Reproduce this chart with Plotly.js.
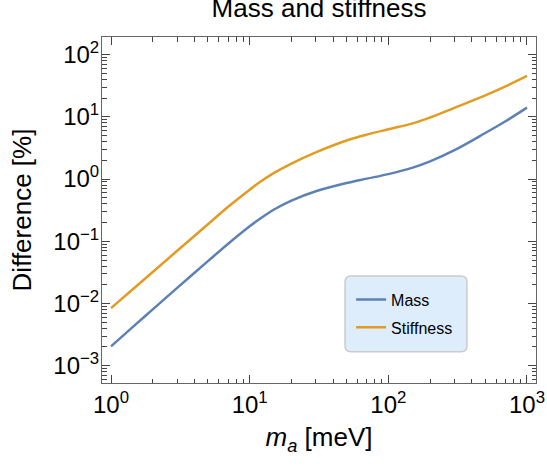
<!DOCTYPE html>
<html>
<head>
<meta charset="utf-8">
<script src="https://cdn.plot.ly/plotly-3.0.1.min.js"></script>
<style>html,body{margin:0;padding:0;background:#fff;}#chart{width:547px;height:466px;}</style>
</head>
<body>
<div id="chart"></div>
<script>
// m_a [meV]
const massAxion = [1, 1.5, 2, 3, 5, 7, 10, 12, 15, 20, 30, 50, 70, 100, 150, 200, 300, 500, 700, 1000];
// Difference [%]
const massDiff = [0.00204, 0.00457, 0.00804, 0.0178, 0.0479, 0.0912, 0.174, 0.234, 0.324, 0.451, 0.637, 0.865, 1.016, 1.202, 1.531, 1.928, 2.917, 5.50, 8.51, 14.09];
const stiffDiff = [0.00843, 0.01845, 0.0321, 0.0703, 0.188, 0.359, 0.676, 0.912, 1.259, 1.778, 2.69, 4.17, 5.19, 6.31, 7.85, 9.77, 13.96, 22.1, 30.9, 45.5];
const seriesNames = ['Mass', 'Stiffness'];

const xTickVals = [1, 10, 100, 1000];
const xTickText = ['10<sup>0</sup>', '10<sup>1</sup>', '10<sup>2</sup>', '10<sup>3</sup>'];
const yTickVals = [0.001, 0.01, 0.1, 1, 10, 100];
const yTickText = ['10<sup>\u22123</sup>', '10<sup>\u22122</sup>', '10<sup>\u22121</sup>', '10<sup>0</sup>', '10<sup>1</sup>', '10<sup>2</sup>'];
const xMinor = [2,3,4,5,6,7,8,9,20,30,40,50,60,70,80,90,200,300,400,500,600,700,800,900];
const yMinor = [0.0006,0.0007,0.0008,0.0009,0.002,0.003,0.004,0.005,0.006,0.007,0.008,0.009,0.02,0.03,0.04,0.05,0.06,0.07,0.08,0.09,0.2,0.3,0.4,0.5,0.6,0.7,0.8,0.9,2,3,4,5,6,7,8,9,20,30,40,50,60,70,80,90];

const FONT = 'Liberation Sans, Arial, Helvetica, sans-serif';
const colors = ['#5E81B5', '#E19C24'];

const traces = [
  {x: massAxion, y: massDiff, name: seriesNames[0], legendgroup: 'g1', mode: 'lines', line: {color: colors[0], width: 2.5, shape: 'spline', smoothing: 1}},
  {x: massAxion, y: stiffDiff, name: seriesNames[1], legendgroup: 'g2', mode: 'lines', line: {color: colors[1], width: 2.5, shape: 'spline', smoothing: 1}}
];

function axisBase() {
  return {
    type: 'log', showgrid: false, zeroline: false,
    showline: true, linecolor: '#666', linewidth: 1, mirror: 'ticks',
    ticks: 'inside', ticklen: 8, tickwidth: 1, tickcolor: '#444',
    tickfont: {family: FONT, size: 24, color: '#000'},
    tickmode: 'array'
  };
}
const xaxis = Object.assign(axisBase(), {
  range: [-0.065, 3.065], tickvals: xTickVals, ticktext: xTickText,
  minor: {tickmode: 'array', tickvals: xMinor, ticks: 'inside', ticklen: 4.5, tickwidth: 1, tickcolor: '#444', showgrid: false},
  title: {text: '<i>m</i><sub><i>a</i></sub> [meV]', font: {family: FONT, size: 26, color: '#000'}, standoff: 11}
});
const yaxis = Object.assign(axisBase(), {
  range: [-3.278, 2.284], tickvals: yTickVals, ticktext: yTickText, ticklabelstandoff: -3,
  minor: {tickmode: 'array', tickvals: yMinor, ticks: 'inside', ticklen: 4.5, tickwidth: 1, tickcolor: '#444', showgrid: false},
  title: {text: 'Difference [%]', font: {family: FONT, size: 26, color: '#000'}, standoff: 14}
});

// rounded legend background (paper coords of the plot area)
const lx0 = 0.560, lx1 = 0.841, ly0 = 0.090, ly1 = 0.309, rx = 6/434, ry = 6/346;
const legendPath = `M ${lx0+rx},${ly1} L ${lx1-rx},${ly1} Q ${lx1},${ly1} ${lx1},${ly1-ry} L ${lx1},${ly0+ry} Q ${lx1},${ly0} ${lx1-rx},${ly0} L ${lx0+rx},${ly0} Q ${lx0},${ly0} ${lx0},${ly0+ry} L ${lx0},${ly1-ry} Q ${lx0},${ly1} ${lx0+rx},${ly1} Z`;

const layout = {
  width: 547, height: 466,
  margin: {l: 102, r: 11, t: 37, b: 83},
  paper_bgcolor: '#fff', plot_bgcolor: '#fff',
  font: {family: FONT, color: '#000'},
  title: {text: 'Mass and stiffness', font: {family: FONT, size: 26, color: '#000'}, x: 0.5, xref: 'paper', y: 1 - 17/466, yref: 'container', yanchor: 'bottom'},
  xaxis: xaxis, yaxis: yaxis,
  showlegend: true,
  legend: {x: 0.574, y: 0.29, xanchor: 'left', yanchor: 'top', bgcolor: 'rgba(0,0,0,0)', borderwidth: 0,
           font: {family: FONT, size: 16, color: '#000'}, tracegroupgap: 4, itemwidth: 30},
  shapes: [{type: 'path', xref: 'paper', yref: 'paper', path: legendPath, fillcolor: '#DDEDFC', line: {color: '#CCCCCC', width: 1.5}, layer: 'below'}]
};

Plotly.newPlot('chart', traces, layout, {displayModeBar: false, staticPlot: true});
</script>
</body>
</html>
